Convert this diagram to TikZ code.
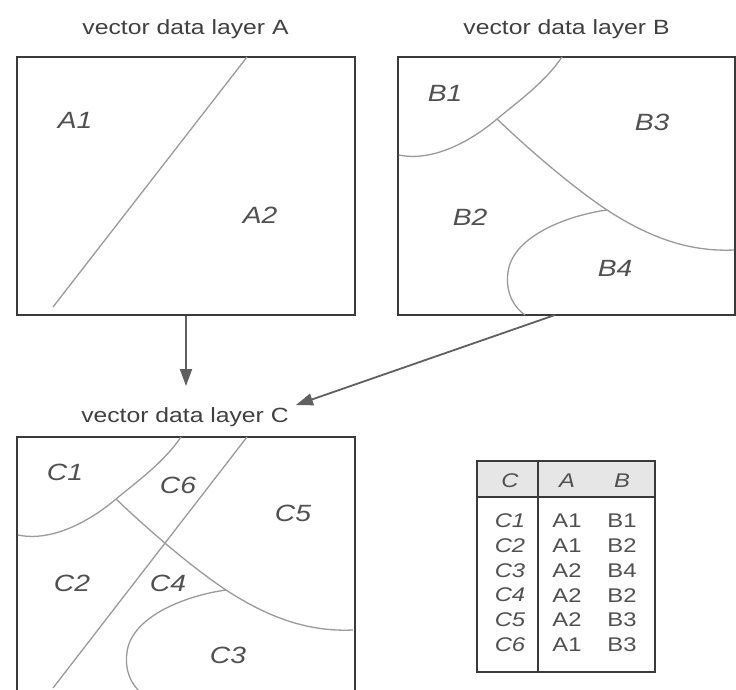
\documentclass[tikz,border=0pt]{standalone}
\usepackage{fontspec}
\setmainfont{Liberation Sans}[FakeStretch=1.2]
\usetikzlibrary{arrows.meta}
\definecolor{boxgray}{HTML}{3A3A3A}
\definecolor{curvegray}{HTML}{9A9A9A}
\definecolor{titlegray}{HTML}{404040}
\definecolor{lblgray}{HTML}{505050}
\definecolor{arrowgray}{HTML}{606060}
\definecolor{headfill}{HTML}{E6E6E6}
\begin{document}
\begin{tikzpicture}[x=1pt,y=-1pt,
  box/.style={draw=boxgray, line width=2pt, inner sep=0pt, minimum height=258pt},
  region/.style={draw=curvegray, line width=1.3pt},
  ttl/.style={font=\fontsize{20.6}{24}\selectfont, text=titlegray, anchor=base, inner sep=0pt},
  lbl/.style={font=\fontsize{23.5}{27}\selectfont\itshape, text=lblgray, inner sep=0pt},
  cell/.style={font=\fontsize{19.8}{23}\selectfont, text=lblgray, inner sep=0pt},
  icell/.style={cell, font=\fontsize{19.8}{23}\selectfont\itshape},
  arr/.style={draw=arrowgray, line width=1.8pt, -{Triangle[length=17pt,width=12pt]}}]
\useasboundingbox (0,0) rectangle (736,690);
\clip (0,0) rectangle (736,690);
\fill[white] (0,0) rectangle (736,690);

% titles
\node[ttl] (titleA) at (185.5,35) {vector data layer A};
\node[ttl] (titleB) at (566.5,35) {vector data layer B};
\node[ttl] (titleC) at (185,422) {vector data layer C};

% boxes
\node[box, minimum width=338pt] (A) at (186,186) {};
\node[box, minimum width=337pt] (B) at (566.5,186) {};
\node[box, minimum width=338pt] (C) at (186,566) {};

% layer A regions
\draw[region] (53,307) -- (247,57);
% layer B regions
\draw[region] (399,155) .. controls (432,162) and (470,142) .. (497,119)
   .. controls (520,100) and (545,82) .. (562,57);
\draw[region] (497,119) .. controls (540,160) and (580,192) .. (607,210)
   .. controls (650,238) and (690,252) .. (734,250);
\draw[region] (607,210) .. controls (570,215) and (513,235) .. (508,272)
   .. controls (505,294) and (515,308) .. (525,315);
% layer C regions (overlay)
\draw[region] (53,688) -- (247,437);
\begin{scope}[shift={(-381,380)}]
\draw[region] (399,155) .. controls (432,162) and (470,142) .. (497,119)
   .. controls (520,100) and (545,82) .. (562,57);
\draw[region] (497,119) .. controls (540,160) and (580,192) .. (607,210)
   .. controls (650,238) and (690,252) .. (734,250);
\draw[region] (607,210) .. controls (570,215) and (513,235) .. (508,272)
   .. controls (505,294) and (515,308) .. (525,315);
\end{scope}

% labels
\node[lbl] (la1) at (75,120) {A1};
\node[lbl] (la2) at (260,215) {A2};
\node[lbl] (lb1) at (445,93) {B1};
\node[lbl] (lb3) at (652,122) {B3};
\node[lbl] (lb2) at (470,217) {B2};
\node[lbl] (lb4) at (615,268) {B4};
\node[lbl] (lc1) at (65,472) {C1};
\node[lbl] (lc6) at (178,485) {C6};
\node[lbl] (lc5) at (293,513) {C5};
\node[lbl] (lc2) at (72,583) {C2};
\node[lbl] (lc4) at (168,583) {C4};
\node[lbl] (lc3) at (228,655) {C3};

% arrows
\coordinate (aEnd) at (186,386);
\coordinate (bStart) at (555,315);
\coordinate (bEnd) at (296,405);
\draw[arr] (A.south) -- (aEnd);
\draw[arr] (bStart) -- (bEnd);

% table
\fill[headfill] (477,461) rectangle (655,497);
\node[draw=boxgray, line width=2pt, inner sep=0pt, minimum width=178pt, minimum height=211pt] (tbl) at (566,566.5) {};
\draw[boxgray, line width=2pt] (477,497) -- (655,497);
\draw[boxgray, line width=2pt] (538,461) -- (538,672);
\node[icell] (hC) at (510,481) {C};
\node[icell] (hA) at (567,481) {A};
\node[icell] (hB) at (622,481) {B};
\foreach \c/\a/\b [count=\i] in {C1/A1/B1, C2/A1/B2, C3/A2/B4, C4/A2/B2, C5/A2/B3, C6/A1/B3} {
  \pgfmathsetmacro{\yy}{521+(\i-1)*24.7}
  \node[icell] (c\i) at (510,\yy) {\c};
  \node[cell] (a\i) at (567,\yy) {\a};
  \node[cell] (b\i) at (622,\yy) {\b};
}
\end{tikzpicture}
\end{document}
